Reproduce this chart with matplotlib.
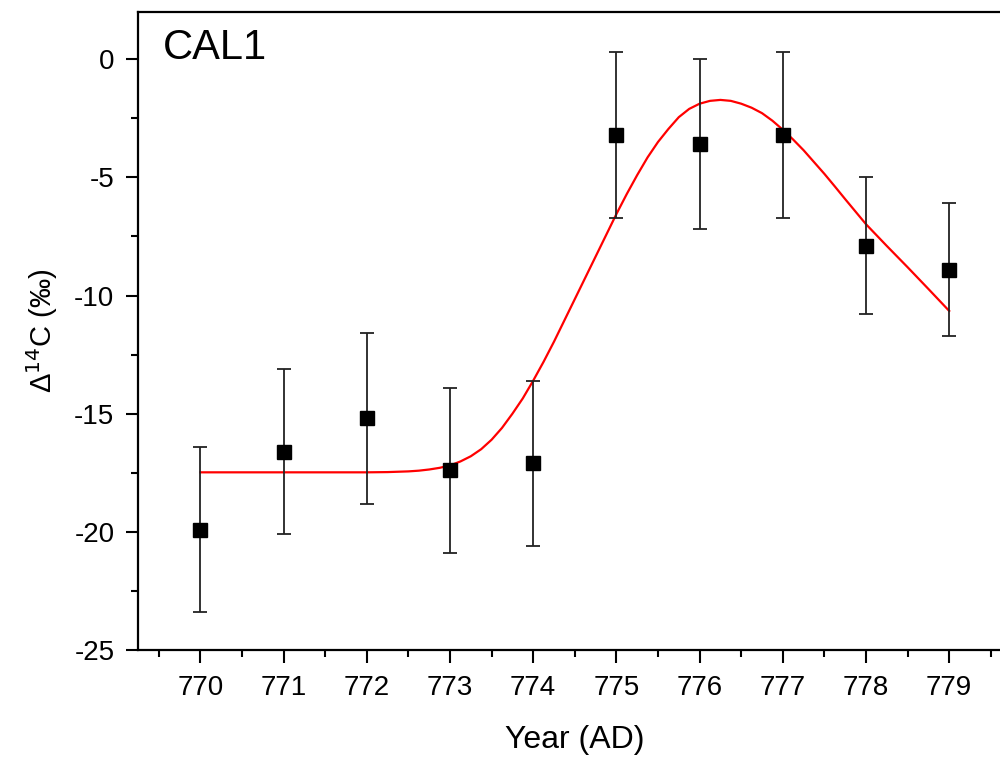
import matplotlib
matplotlib.use("Agg")
import matplotlib.pyplot as plt
from matplotlib.ticker import MultipleLocator

plt.rcParams['font.family'] = ['Liberation Sans', 'DejaVu Sans']
plt.rcParams['axes.unicode_minus'] = False

# measured points
years = [770, 771, 772, 773, 774, 775, 776, 777, 778, 779]
d14c = [-19.9, -16.6, -15.2, -17.4, -17.1, -3.2, -3.6, -3.2, -7.9, -8.9]
err = [3.5, 3.5, 3.6, 3.5, 3.5, 3.5, 3.6, 3.5, 2.9, 2.8]

# fitted curve
fit_x = [770.0, 770.5, 771.0, 771.5, 772.0, 772.25, 772.5, 772.625, 772.75, 772.875,
         773.0, 773.125, 773.25, 773.375, 773.5, 773.625, 773.75, 773.875, 774.0, 774.125,
         774.25, 774.375, 774.5, 774.625, 774.75, 774.875, 775.0, 775.125, 775.25, 775.375,
         775.5, 775.625, 775.75, 775.875, 776.0, 776.125, 776.25, 776.375, 776.5, 776.625,
         776.75, 776.875, 777.0, 777.125, 777.25, 777.375, 777.5, 777.625, 777.75, 777.875,
         778.0, 778.25, 778.5, 778.75, 779.0]
fit_y = [-17.48, -17.48, -17.48, -17.48, -17.48, -17.47, -17.44, -17.41, -17.36, -17.29,
         -17.19, -17.02, -16.8, -16.5, -16.1, -15.6, -15.0, -14.35, -13.6, -12.8,
         -11.95, -11.05, -10.15, -9.25, -8.35, -7.45, -6.55, -5.7, -4.9, -4.15,
         -3.5, -2.95, -2.45, -2.1, -1.88, -1.76, -1.72, -1.76, -1.88, -2.05,
         -2.28, -2.6, -2.98, -3.4, -3.85, -4.35, -4.85, -5.38, -5.92, -6.45,
         -6.98, -7.9, -8.8, -9.72, -10.65]

fig = plt.figure(figsize=(10, 7.6), dpi=100)
ax = fig.add_axes([0.138, 0.1447, 0.8736, 0.8395])

ax.plot(fit_x, fit_y, color='red', lw=1.6, zorder=2, solid_joinstyle='round')
ax.errorbar(years, d14c, yerr=err, fmt='s', color='black', ms=9.5,
            ecolor='#222222', elinewidth=1.3, capsize=5, capthick=1.3, zorder=3)

ax.set_xlim(769.25, 779.75)
ax.set_ylim(-25, 2)
ax.xaxis.set_major_locator(MultipleLocator(1))
ax.xaxis.set_minor_locator(MultipleLocator(0.5))
ax.yaxis.set_major_locator(MultipleLocator(5))
ax.yaxis.set_minor_locator(MultipleLocator(2.5))
ax.tick_params(which='both', direction='out', width=1.5, labelsize=20)
ax.tick_params(which='major', length=9)
ax.tick_params(axis='x', which='major', pad=9)
ax.tick_params(axis='y', which='major', pad=8)
ax.tick_params(which='minor', length=5)
for s in ax.spines.values():
    s.set_linewidth(1.6)

ax.set_xlabel('Year (AD)', fontsize=23, labelpad=17)
ax.set_ylabel('Δ$^{14}$C (‰)', fontsize=21, labelpad=10)
ax.text(0.028, 0.975, 'CAL1', transform=ax.transAxes, fontsize=30, va='top', ha='left')

fig.savefig('out.png', dpi=100)
